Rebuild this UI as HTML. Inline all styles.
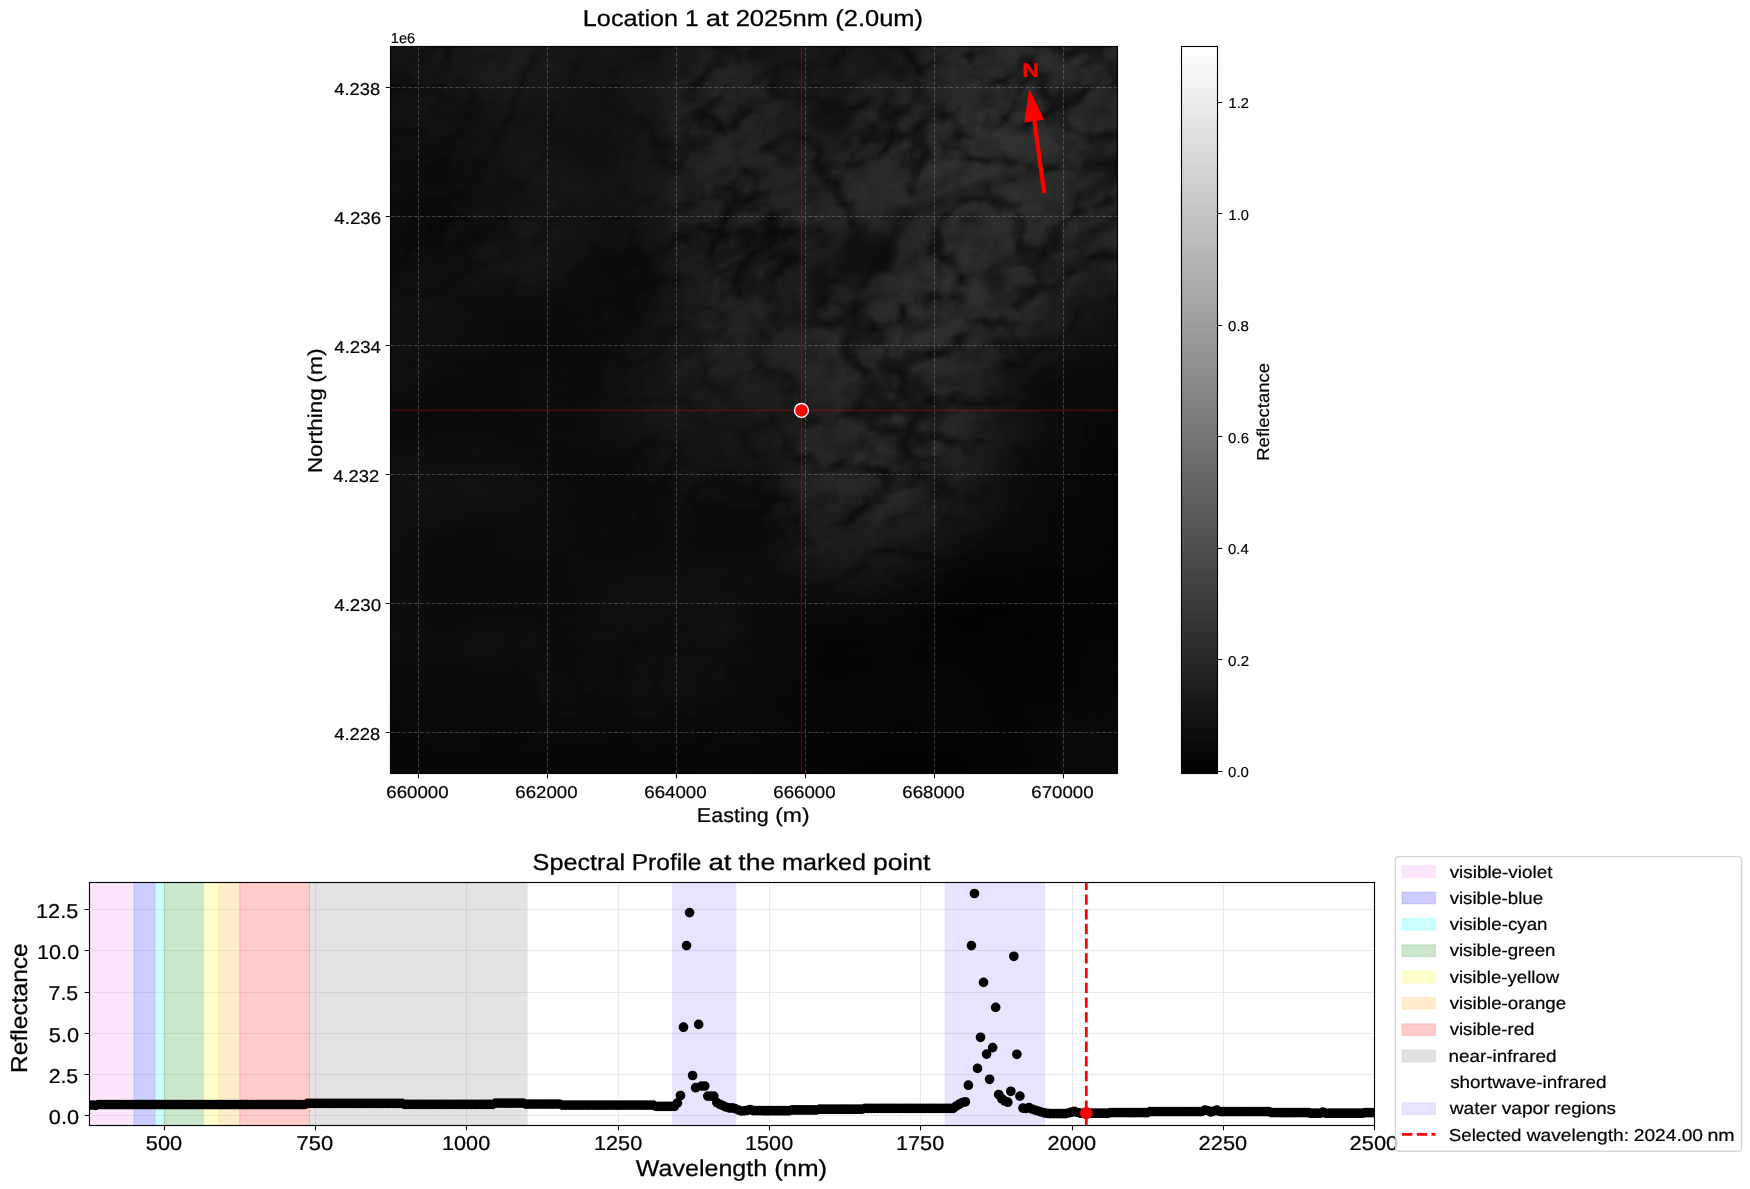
<!DOCTYPE html>
<html lang="en"><head><meta charset="utf-8"><title>Location 1 at 2025nm</title>
<style>html,body{margin:0;padding:0;background:#fff;}body{width:1750px;height:1189px;overflow:hidden;font-family:"Liberation Sans",sans-serif;}svg{display:block;will-change:transform;}</style></head>
<body>
<svg width="1750" height="1189" viewBox="0 0 1750 1189" font-family="'Liberation Sans', sans-serif" text-rendering="geometricPrecision">
<defs>
<linearGradient id="cbg" x1="0" y1="1" x2="0" y2="0"><stop offset="0" stop-color="#000"/><stop offset="1" stop-color="#fff"/></linearGradient>
<clipPath id="imclip"><rect x="390.5" y="46.5" width="727.0" height="727.0"/></clipPath>
<clipPath id="lclip"><rect x="89.5" y="882.5" width="1285.0" height="243.0"/></clipPath>
<filter id="tgb" x="-15%" y="-15%" width="130%" height="130%" color-interpolation-filters="sRGB"><feGaussianBlur stdDeviation="20"/></filter>
<filter id="tf0" x="0" y="0" width="100%" height="100%" color-interpolation-filters="sRGB">
<feTurbulence type="fractalNoise" baseFrequency="0.006 0.009" numOctaves="3" seed="4" result="t0"/>
<feColorMatrix in="t0" type="matrix" values="0.7 0 0 0 0.15  0.7 0 0 0 0.15  0.7 0 0 0 0.15  0 0 0 0 1" result="g0"/>
<feComposite in="SourceGraphic" in2="g0" operator="arithmetic" k1="2" k2="0" k3="0" k4="0"/></filter>
<filter id="tf1" x="0" y="0" width="100%" height="100%" color-interpolation-filters="sRGB">
<feTurbulence type="turbulence" baseFrequency="0.015 0.02" numOctaves="4" seed="3" result="tA"/>
<feTurbulence type="turbulence" baseFrequency="0.022 0.03" numOctaves="3" seed="7" result="tB"/>
<feTurbulence type="fractalNoise" baseFrequency="0.04 0.06" numOctaves="4" seed="5" result="tC"/>
<feColorMatrix in="tA" type="matrix" values="3.0 0 0 0 0.0  3.0 0 0 0 0.0  3.0 0 0 0 0.0  0 0 0 0 1" result="gA"/>
<feColorMatrix in="tB" type="matrix" values="1000 0 0 0 1  1000 0 0 0 1  1000 0 0 0 1  0 0 0 0 1" result="gB"/>
<feColorMatrix in="tC" type="matrix" values="1.0 0 0 0 0.4  1.0 0 0 0 0.4  1.0 0 0 0 0.4  0 0 0 0 1" result="gC"/>
<feComposite in="gA" in2="gB" operator="arithmetic" k1="1" k2="0" k3="0" k4="0" result="gAB"/>
<feComposite in="gAB" in2="gC" operator="arithmetic" k1="1" k2="0" k3="0" k4="0" result="ng0"/>
<feGaussianBlur in="ng0" stdDeviation="1.2" result="ng"/>
<feComposite in="SourceGraphic" in2="ng" operator="arithmetic" k1="1.45" k2="0" k3="0" k4="0"/></filter>
<filter id="vb" x="-20%" y="-20%" width="140%" height="140%" color-interpolation-filters="sRGB"><feGaussianBlur stdDeviation="5"/></filter>
</defs>
<rect width="1750" height="1189" fill="#fff"/>
<g clip-path="url(#imclip)" style="isolation:isolate">
<rect x="390.5" y="46.5" width="727.0" height="727.0" fill="#000"/>
<g filter="url(#tf0)"><rect x="300.5" y="-43.5" width="907.0" height="907.0" fill="#060606"/><g filter="url(#tgb)"><rect x="310.5" y="-33.5" width="126.0" height="126.0" fill="#0c0c0c"/><rect x="435.9" y="-33.5" width="46.0" height="126.0" fill="#0c0c0c"/><rect x="481.4" y="-33.5" width="46.0" height="126.0" fill="#0c0c0c"/><rect x="526.8" y="-33.5" width="46.0" height="126.0" fill="#0c0c0c"/><rect x="572.2" y="-33.5" width="46.0" height="126.0" fill="#0c0c0c"/><rect x="617.7" y="-33.5" width="46.0" height="126.0" fill="#0c0c0c"/><rect x="663.1" y="-33.5" width="46.0" height="126.0" fill="#0c0c0c"/><rect x="708.6" y="-33.5" width="46.0" height="126.0" fill="#0c0c0c"/><rect x="754.0" y="-33.5" width="46.0" height="126.0" fill="#0c0c0c"/><rect x="799.4" y="-33.5" width="46.0" height="126.0" fill="#0c0c0c"/><rect x="844.9" y="-33.5" width="46.0" height="126.0" fill="#0c0c0c"/><rect x="890.3" y="-33.5" width="46.0" height="126.0" fill="#0c0c0c"/><rect x="935.8" y="-33.5" width="46.0" height="126.0" fill="#0c0c0c"/><rect x="981.2" y="-33.5" width="46.0" height="126.0" fill="#0c0c0c"/><rect x="1026.6" y="-33.5" width="46.0" height="126.0" fill="#0c0c0c"/><rect x="1072.1" y="-33.5" width="126.0" height="126.0" fill="#0c0c0c"/><rect x="310.5" y="91.9" width="126.0" height="46.0" fill="#0c0c0c"/><rect x="435.9" y="91.9" width="46.0" height="46.0" fill="#0c0c0c"/><rect x="481.4" y="91.9" width="46.0" height="46.0" fill="#0c0c0c"/><rect x="526.8" y="91.9" width="46.0" height="46.0" fill="#0c0c0c"/><rect x="572.2" y="91.9" width="46.0" height="46.0" fill="#0c0c0c"/><rect x="617.7" y="91.9" width="46.0" height="46.0" fill="#0c0c0c"/><rect x="663.1" y="91.9" width="46.0" height="46.0" fill="#0c0c0c"/><rect x="708.6" y="91.9" width="46.0" height="46.0" fill="#0c0c0c"/><rect x="754.0" y="91.9" width="46.0" height="46.0" fill="#0c0c0c"/><rect x="799.4" y="91.9" width="46.0" height="46.0" fill="#0c0c0c"/><rect x="844.9" y="91.9" width="46.0" height="46.0" fill="#0c0c0c"/><rect x="890.3" y="91.9" width="46.0" height="46.0" fill="#0c0c0c"/><rect x="935.8" y="91.9" width="46.0" height="46.0" fill="#0c0c0c"/><rect x="981.2" y="91.9" width="46.0" height="46.0" fill="#0c0c0c"/><rect x="1026.6" y="91.9" width="46.0" height="46.0" fill="#0c0c0c"/><rect x="1072.1" y="91.9" width="126.0" height="46.0" fill="#0c0c0c"/><rect x="310.5" y="137.4" width="126.0" height="46.0" fill="#0c0c0c"/><rect x="435.9" y="137.4" width="46.0" height="46.0" fill="#0c0c0c"/><rect x="481.4" y="137.4" width="46.0" height="46.0" fill="#0c0c0c"/><rect x="526.8" y="137.4" width="46.0" height="46.0" fill="#0c0c0c"/><rect x="572.2" y="137.4" width="46.0" height="46.0" fill="#0c0c0c"/><rect x="617.7" y="137.4" width="46.0" height="46.0" fill="#0c0c0c"/><rect x="663.1" y="137.4" width="46.0" height="46.0" fill="#0c0c0c"/><rect x="708.6" y="137.4" width="46.0" height="46.0" fill="#0c0c0c"/><rect x="754.0" y="137.4" width="46.0" height="46.0" fill="#0c0c0c"/><rect x="799.4" y="137.4" width="46.0" height="46.0" fill="#0c0c0c"/><rect x="844.9" y="137.4" width="46.0" height="46.0" fill="#0c0c0c"/><rect x="890.3" y="137.4" width="46.0" height="46.0" fill="#0c0c0c"/><rect x="935.8" y="137.4" width="46.0" height="46.0" fill="#0c0c0c"/><rect x="981.2" y="137.4" width="46.0" height="46.0" fill="#0c0c0c"/><rect x="1026.6" y="137.4" width="46.0" height="46.0" fill="#0c0c0c"/><rect x="1072.1" y="137.4" width="126.0" height="46.0" fill="#0c0c0c"/><rect x="310.5" y="182.8" width="126.0" height="46.0" fill="#0c0c0c"/><rect x="435.9" y="182.8" width="46.0" height="46.0" fill="#0c0c0c"/><rect x="481.4" y="182.8" width="46.0" height="46.0" fill="#0c0c0c"/><rect x="526.8" y="182.8" width="46.0" height="46.0" fill="#0c0c0c"/><rect x="572.2" y="182.8" width="46.0" height="46.0" fill="#0c0c0c"/><rect x="617.7" y="182.8" width="46.0" height="46.0" fill="#0c0c0c"/><rect x="663.1" y="182.8" width="46.0" height="46.0" fill="#0c0c0c"/><rect x="708.6" y="182.8" width="46.0" height="46.0" fill="#0c0c0c"/><rect x="754.0" y="182.8" width="46.0" height="46.0" fill="#0c0c0c"/><rect x="799.4" y="182.8" width="46.0" height="46.0" fill="#0c0c0c"/><rect x="844.9" y="182.8" width="46.0" height="46.0" fill="#0c0c0c"/><rect x="890.3" y="182.8" width="46.0" height="46.0" fill="#0c0c0c"/><rect x="935.8" y="182.8" width="46.0" height="46.0" fill="#0c0c0c"/><rect x="981.2" y="182.8" width="46.0" height="46.0" fill="#0c0c0c"/><rect x="1026.6" y="182.8" width="46.0" height="46.0" fill="#0c0c0c"/><rect x="1072.1" y="182.8" width="126.0" height="46.0" fill="#0c0c0c"/><rect x="310.5" y="228.2" width="126.0" height="46.0" fill="#0c0c0c"/><rect x="435.9" y="228.2" width="46.0" height="46.0" fill="#0c0c0c"/><rect x="481.4" y="228.2" width="46.0" height="46.0" fill="#0c0c0c"/><rect x="526.8" y="228.2" width="46.0" height="46.0" fill="#0c0c0c"/><rect x="572.2" y="228.2" width="46.0" height="46.0" fill="#0c0c0c"/><rect x="617.7" y="228.2" width="46.0" height="46.0" fill="#0c0c0c"/><rect x="663.1" y="228.2" width="46.0" height="46.0" fill="#0c0c0c"/><rect x="708.6" y="228.2" width="46.0" height="46.0" fill="#0c0c0c"/><rect x="754.0" y="228.2" width="46.0" height="46.0" fill="#0c0c0c"/><rect x="799.4" y="228.2" width="46.0" height="46.0" fill="#0c0c0c"/><rect x="844.9" y="228.2" width="46.0" height="46.0" fill="#0c0c0c"/><rect x="890.3" y="228.2" width="46.0" height="46.0" fill="#0c0c0c"/><rect x="935.8" y="228.2" width="46.0" height="46.0" fill="#0c0c0c"/><rect x="981.2" y="228.2" width="46.0" height="46.0" fill="#0c0c0c"/><rect x="1026.6" y="228.2" width="46.0" height="46.0" fill="#0c0c0c"/><rect x="1072.1" y="228.2" width="126.0" height="46.0" fill="#0c0c0c"/><rect x="310.5" y="273.7" width="126.0" height="46.0" fill="#0c0c0c"/><rect x="435.9" y="273.7" width="46.0" height="46.0" fill="#0c0c0c"/><rect x="481.4" y="273.7" width="46.0" height="46.0" fill="#0c0c0c"/><rect x="526.8" y="273.7" width="46.0" height="46.0" fill="#0c0c0c"/><rect x="572.2" y="273.7" width="46.0" height="46.0" fill="#0c0c0c"/><rect x="617.7" y="273.7" width="46.0" height="46.0" fill="#0c0c0c"/><rect x="663.1" y="273.7" width="46.0" height="46.0" fill="#0c0c0c"/><rect x="708.6" y="273.7" width="46.0" height="46.0" fill="#0c0c0c"/><rect x="754.0" y="273.7" width="46.0" height="46.0" fill="#0c0c0c"/><rect x="799.4" y="273.7" width="46.0" height="46.0" fill="#0c0c0c"/><rect x="844.9" y="273.7" width="46.0" height="46.0" fill="#0c0c0c"/><rect x="890.3" y="273.7" width="46.0" height="46.0" fill="#0c0c0c"/><rect x="935.8" y="273.7" width="46.0" height="46.0" fill="#0c0c0c"/><rect x="981.2" y="273.7" width="46.0" height="46.0" fill="#0c0c0c"/><rect x="1026.6" y="273.7" width="46.0" height="46.0" fill="#0c0c0c"/><rect x="1072.1" y="273.7" width="126.0" height="46.0" fill="#0c0c0c"/><rect x="310.5" y="319.1" width="126.0" height="46.0" fill="#0c0c0c"/><rect x="435.9" y="319.1" width="46.0" height="46.0" fill="#0c0c0c"/><rect x="481.4" y="319.1" width="46.0" height="46.0" fill="#0c0c0c"/><rect x="526.8" y="319.1" width="46.0" height="46.0" fill="#0c0c0c"/><rect x="572.2" y="319.1" width="46.0" height="46.0" fill="#0c0c0c"/><rect x="617.7" y="319.1" width="46.0" height="46.0" fill="#0c0c0c"/><rect x="663.1" y="319.1" width="46.0" height="46.0" fill="#0c0c0c"/><rect x="708.6" y="319.1" width="46.0" height="46.0" fill="#0c0c0c"/><rect x="754.0" y="319.1" width="46.0" height="46.0" fill="#0c0c0c"/><rect x="799.4" y="319.1" width="46.0" height="46.0" fill="#0c0c0c"/><rect x="844.9" y="319.1" width="46.0" height="46.0" fill="#0c0c0c"/><rect x="890.3" y="319.1" width="46.0" height="46.0" fill="#0c0c0c"/><rect x="935.8" y="319.1" width="46.0" height="46.0" fill="#0c0c0c"/><rect x="981.2" y="319.1" width="46.0" height="46.0" fill="#0c0c0c"/><rect x="1026.6" y="319.1" width="46.0" height="46.0" fill="#0c0c0c"/><rect x="1072.1" y="319.1" width="126.0" height="46.0" fill="#0c0c0c"/><rect x="310.5" y="364.6" width="126.0" height="46.0" fill="#0c0c0c"/><rect x="435.9" y="364.6" width="46.0" height="46.0" fill="#0c0c0c"/><rect x="481.4" y="364.6" width="46.0" height="46.0" fill="#0c0c0c"/><rect x="526.8" y="364.6" width="46.0" height="46.0" fill="#0c0c0c"/><rect x="572.2" y="364.6" width="46.0" height="46.0" fill="#0c0c0c"/><rect x="617.7" y="364.6" width="46.0" height="46.0" fill="#0c0c0c"/><rect x="663.1" y="364.6" width="46.0" height="46.0" fill="#0c0c0c"/><rect x="708.6" y="364.6" width="46.0" height="46.0" fill="#0c0c0c"/><rect x="754.0" y="364.6" width="46.0" height="46.0" fill="#0c0c0c"/><rect x="799.4" y="364.6" width="46.0" height="46.0" fill="#0c0c0c"/><rect x="844.9" y="364.6" width="46.0" height="46.0" fill="#0c0c0c"/><rect x="890.3" y="364.6" width="46.0" height="46.0" fill="#0c0c0c"/><rect x="935.8" y="364.6" width="46.0" height="46.0" fill="#0c0c0c"/><rect x="981.2" y="364.6" width="46.0" height="46.0" fill="#0c0c0c"/><rect x="1026.6" y="364.6" width="46.0" height="46.0" fill="#0c0c0c"/><rect x="1072.1" y="364.6" width="126.0" height="46.0" fill="#080808"/><rect x="310.5" y="410.0" width="126.0" height="46.0" fill="#0c0c0c"/><rect x="435.9" y="410.0" width="46.0" height="46.0" fill="#0c0c0c"/><rect x="481.4" y="410.0" width="46.0" height="46.0" fill="#0c0c0c"/><rect x="526.8" y="410.0" width="46.0" height="46.0" fill="#0c0c0c"/><rect x="572.2" y="410.0" width="46.0" height="46.0" fill="#0c0c0c"/><rect x="617.7" y="410.0" width="46.0" height="46.0" fill="#0c0c0c"/><rect x="663.1" y="410.0" width="46.0" height="46.0" fill="#0c0c0c"/><rect x="708.6" y="410.0" width="46.0" height="46.0" fill="#0c0c0c"/><rect x="754.0" y="410.0" width="46.0" height="46.0" fill="#0c0c0c"/><rect x="799.4" y="410.0" width="46.0" height="46.0" fill="#0c0c0c"/><rect x="844.9" y="410.0" width="46.0" height="46.0" fill="#0c0c0c"/><rect x="890.3" y="410.0" width="46.0" height="46.0" fill="#0c0c0c"/><rect x="935.8" y="410.0" width="46.0" height="46.0" fill="#0c0c0c"/><rect x="981.2" y="410.0" width="46.0" height="46.0" fill="#0c0c0c"/><rect x="1026.6" y="410.0" width="46.0" height="46.0" fill="#0c0c0c"/><rect x="1072.1" y="410.0" width="126.0" height="46.0" fill="#060606"/><rect x="310.5" y="455.4" width="126.0" height="46.0" fill="#0c0c0c"/><rect x="435.9" y="455.4" width="46.0" height="46.0" fill="#0c0c0c"/><rect x="481.4" y="455.4" width="46.0" height="46.0" fill="#0c0c0c"/><rect x="526.8" y="455.4" width="46.0" height="46.0" fill="#0c0c0c"/><rect x="572.2" y="455.4" width="46.0" height="46.0" fill="#0c0c0c"/><rect x="617.7" y="455.4" width="46.0" height="46.0" fill="#0c0c0c"/><rect x="663.1" y="455.4" width="46.0" height="46.0" fill="#0c0c0c"/><rect x="708.6" y="455.4" width="46.0" height="46.0" fill="#0c0c0c"/><rect x="754.0" y="455.4" width="46.0" height="46.0" fill="#0c0c0c"/><rect x="799.4" y="455.4" width="46.0" height="46.0" fill="#0c0c0c"/><rect x="844.9" y="455.4" width="46.0" height="46.0" fill="#0c0c0c"/><rect x="890.3" y="455.4" width="46.0" height="46.0" fill="#0c0c0c"/><rect x="935.8" y="455.4" width="46.0" height="46.0" fill="#0c0c0c"/><rect x="981.2" y="455.4" width="46.0" height="46.0" fill="#0c0c0c"/><rect x="1026.6" y="455.4" width="46.0" height="46.0" fill="#070707"/><rect x="1072.1" y="455.4" width="126.0" height="46.0" fill="#050505"/><rect x="310.5" y="500.9" width="126.0" height="46.0" fill="#0c0c0c"/><rect x="435.9" y="500.9" width="46.0" height="46.0" fill="#0c0c0c"/><rect x="481.4" y="500.9" width="46.0" height="46.0" fill="#0c0c0c"/><rect x="526.8" y="500.9" width="46.0" height="46.0" fill="#0c0c0c"/><rect x="572.2" y="500.9" width="46.0" height="46.0" fill="#0c0c0c"/><rect x="617.7" y="500.9" width="46.0" height="46.0" fill="#0c0c0c"/><rect x="663.1" y="500.9" width="46.0" height="46.0" fill="#0c0c0c"/><rect x="708.6" y="500.9" width="46.0" height="46.0" fill="#0c0c0c"/><rect x="754.0" y="500.9" width="46.0" height="46.0" fill="#0c0c0c"/><rect x="799.4" y="500.9" width="46.0" height="46.0" fill="#0c0c0c"/><rect x="844.9" y="500.9" width="46.0" height="46.0" fill="#0c0c0c"/><rect x="890.3" y="500.9" width="46.0" height="46.0" fill="#0c0c0c"/><rect x="935.8" y="500.9" width="46.0" height="46.0" fill="#0c0c0c"/><rect x="981.2" y="500.9" width="46.0" height="46.0" fill="#090909"/><rect x="1026.6" y="500.9" width="46.0" height="46.0" fill="#050505"/><rect x="1072.1" y="500.9" width="126.0" height="46.0" fill="#050505"/><rect x="310.5" y="546.3" width="126.0" height="46.0" fill="#0c0c0c"/><rect x="435.9" y="546.3" width="46.0" height="46.0" fill="#0c0c0c"/><rect x="481.4" y="546.3" width="46.0" height="46.0" fill="#0c0c0c"/><rect x="526.8" y="546.3" width="46.0" height="46.0" fill="#0c0c0c"/><rect x="572.2" y="546.3" width="46.0" height="46.0" fill="#0c0c0c"/><rect x="617.7" y="546.3" width="46.0" height="46.0" fill="#0c0c0c"/><rect x="663.1" y="546.3" width="46.0" height="46.0" fill="#0c0c0c"/><rect x="708.6" y="546.3" width="46.0" height="46.0" fill="#0c0c0c"/><rect x="754.0" y="546.3" width="46.0" height="46.0" fill="#0c0c0c"/><rect x="799.4" y="546.3" width="46.0" height="46.0" fill="#0c0c0c"/><rect x="844.9" y="546.3" width="46.0" height="46.0" fill="#0c0c0c"/><rect x="890.3" y="546.3" width="46.0" height="46.0" fill="#0c0c0c"/><rect x="935.8" y="546.3" width="46.0" height="46.0" fill="#090909"/><rect x="981.2" y="546.3" width="46.0" height="46.0" fill="#060606"/><rect x="1026.6" y="546.3" width="46.0" height="46.0" fill="#050505"/><rect x="1072.1" y="546.3" width="126.0" height="46.0" fill="#050505"/><rect x="310.5" y="591.8" width="126.0" height="46.0" fill="#0c0c0c"/><rect x="435.9" y="591.8" width="46.0" height="46.0" fill="#0c0c0c"/><rect x="481.4" y="591.8" width="46.0" height="46.0" fill="#0c0c0c"/><rect x="526.8" y="591.8" width="46.0" height="46.0" fill="#0c0c0c"/><rect x="572.2" y="591.8" width="46.0" height="46.0" fill="#0c0c0c"/><rect x="617.7" y="591.8" width="46.0" height="46.0" fill="#0c0c0c"/><rect x="663.1" y="591.8" width="46.0" height="46.0" fill="#0c0c0c"/><rect x="708.6" y="591.8" width="46.0" height="46.0" fill="#0c0c0c"/><rect x="754.0" y="591.8" width="46.0" height="46.0" fill="#090909"/><rect x="799.4" y="591.8" width="46.0" height="46.0" fill="#080808"/><rect x="844.9" y="591.8" width="46.0" height="46.0" fill="#080808"/><rect x="890.3" y="591.8" width="46.0" height="46.0" fill="#070707"/><rect x="935.8" y="591.8" width="46.0" height="46.0" fill="#050505"/><rect x="981.2" y="591.8" width="46.0" height="46.0" fill="#050505"/><rect x="1026.6" y="591.8" width="46.0" height="46.0" fill="#050505"/><rect x="1072.1" y="591.8" width="126.0" height="46.0" fill="#050505"/><rect x="310.5" y="637.2" width="126.0" height="46.0" fill="#0c0c0c"/><rect x="435.9" y="637.2" width="46.0" height="46.0" fill="#0c0c0c"/><rect x="481.4" y="637.2" width="46.0" height="46.0" fill="#0c0c0c"/><rect x="526.8" y="637.2" width="46.0" height="46.0" fill="#0c0c0c"/><rect x="572.2" y="637.2" width="46.0" height="46.0" fill="#0c0c0c"/><rect x="617.7" y="637.2" width="46.0" height="46.0" fill="#0c0c0c"/><rect x="663.1" y="637.2" width="46.0" height="46.0" fill="#0c0c0c"/><rect x="708.6" y="637.2" width="46.0" height="46.0" fill="#0c0c0c"/><rect x="754.0" y="637.2" width="46.0" height="46.0" fill="#080808"/><rect x="799.4" y="637.2" width="46.0" height="46.0" fill="#050505"/><rect x="844.9" y="637.2" width="46.0" height="46.0" fill="#050505"/><rect x="890.3" y="637.2" width="46.0" height="46.0" fill="#050505"/><rect x="935.8" y="637.2" width="46.0" height="46.0" fill="#050505"/><rect x="981.2" y="637.2" width="46.0" height="46.0" fill="#050505"/><rect x="1026.6" y="637.2" width="46.0" height="46.0" fill="#060606"/><rect x="1072.1" y="637.2" width="126.0" height="46.0" fill="#080808"/><rect x="310.5" y="682.6" width="126.0" height="46.0" fill="#0c0c0c"/><rect x="435.9" y="682.6" width="46.0" height="46.0" fill="#0c0c0c"/><rect x="481.4" y="682.6" width="46.0" height="46.0" fill="#0c0c0c"/><rect x="526.8" y="682.6" width="46.0" height="46.0" fill="#0c0c0c"/><rect x="572.2" y="682.6" width="46.0" height="46.0" fill="#0c0c0c"/><rect x="617.7" y="682.6" width="46.0" height="46.0" fill="#0c0c0c"/><rect x="663.1" y="682.6" width="46.0" height="46.0" fill="#0c0c0c"/><rect x="708.6" y="682.6" width="46.0" height="46.0" fill="#0a0a0a"/><rect x="754.0" y="682.6" width="46.0" height="46.0" fill="#060606"/><rect x="799.4" y="682.6" width="46.0" height="46.0" fill="#050505"/><rect x="844.9" y="682.6" width="46.0" height="46.0" fill="#050505"/><rect x="890.3" y="682.6" width="46.0" height="46.0" fill="#050505"/><rect x="935.8" y="682.6" width="46.0" height="46.0" fill="#050505"/><rect x="981.2" y="682.6" width="46.0" height="46.0" fill="#050505"/><rect x="1026.6" y="682.6" width="46.0" height="46.0" fill="#060606"/><rect x="1072.1" y="682.6" width="126.0" height="46.0" fill="#080808"/><rect x="310.5" y="728.1" width="126.0" height="126.0" fill="#070707"/><rect x="435.9" y="728.1" width="46.0" height="126.0" fill="#070707"/><rect x="481.4" y="728.1" width="46.0" height="126.0" fill="#070707"/><rect x="526.8" y="728.1" width="46.0" height="126.0" fill="#070707"/><rect x="572.2" y="728.1" width="46.0" height="126.0" fill="#070707"/><rect x="617.7" y="728.1" width="46.0" height="126.0" fill="#070707"/><rect x="663.1" y="728.1" width="46.0" height="126.0" fill="#060606"/><rect x="708.6" y="728.1" width="46.0" height="126.0" fill="#060606"/><rect x="754.0" y="728.1" width="46.0" height="126.0" fill="#050505"/><rect x="799.4" y="728.1" width="46.0" height="126.0" fill="#040404"/><rect x="844.9" y="728.1" width="46.0" height="126.0" fill="#040404"/><rect x="890.3" y="728.1" width="46.0" height="126.0" fill="#040404"/><rect x="935.8" y="728.1" width="46.0" height="126.0" fill="#040404"/><rect x="981.2" y="728.1" width="46.0" height="126.0" fill="#040404"/><rect x="1026.6" y="728.1" width="46.0" height="126.0" fill="#060606"/><rect x="1072.1" y="728.1" width="126.0" height="126.0" fill="#080808"/></g></g>
<g style="mix-blend-mode:screen"><g transform="rotate(-30 754.0 410.0)" filter="url(#tf1)"><g transform="rotate(30 754.0 410.0)"><rect x="300.5" y="-43.5" width="907.0" height="907.0" fill="#000"/><g filter="url(#tgb)"><rect x="310.5" y="-33.5" width="126.0" height="126.0" fill="#080808"/><rect x="435.9" y="-33.5" width="46.0" height="126.0" fill="#0a0a0a"/><rect x="481.4" y="-33.5" width="46.0" height="126.0" fill="#0c0c0c"/><rect x="526.8" y="-33.5" width="46.0" height="126.0" fill="#080808"/><rect x="572.2" y="-33.5" width="46.0" height="126.0" fill="#020202"/><rect x="617.7" y="-33.5" width="46.0" height="126.0" fill="#040404"/><rect x="663.1" y="-33.5" width="46.0" height="126.0" fill="#0c0c0c"/><rect x="708.6" y="-33.5" width="46.0" height="126.0" fill="#121212"/><rect x="754.0" y="-33.5" width="46.0" height="126.0" fill="#0c0c0c"/><rect x="799.4" y="-33.5" width="46.0" height="126.0" fill="#080808"/><rect x="844.9" y="-33.5" width="46.0" height="126.0" fill="#0c0c0c"/><rect x="890.3" y="-33.5" width="46.0" height="126.0" fill="#0e0e0e"/><rect x="935.8" y="-33.5" width="46.0" height="126.0" fill="#161616"/><rect x="981.2" y="-33.5" width="46.0" height="126.0" fill="#181818"/><rect x="1026.6" y="-33.5" width="46.0" height="126.0" fill="#181818"/><rect x="1072.1" y="-33.5" width="126.0" height="126.0" fill="#161616"/><rect x="310.5" y="91.9" width="126.0" height="46.0" fill="#060606"/><rect x="435.9" y="91.9" width="46.0" height="46.0" fill="#060606"/><rect x="481.4" y="91.9" width="46.0" height="46.0" fill="#060606"/><rect x="526.8" y="91.9" width="46.0" height="46.0" fill="#040404"/><rect x="617.7" y="91.9" width="46.0" height="46.0" fill="#080808"/><rect x="663.1" y="91.9" width="46.0" height="46.0" fill="#121212"/><rect x="708.6" y="91.9" width="46.0" height="46.0" fill="#161616"/><rect x="754.0" y="91.9" width="46.0" height="46.0" fill="#101010"/><rect x="799.4" y="91.9" width="46.0" height="46.0" fill="#060606"/><rect x="844.9" y="91.9" width="46.0" height="46.0" fill="#141414"/><rect x="890.3" y="91.9" width="46.0" height="46.0" fill="#161616"/><rect x="935.8" y="91.9" width="46.0" height="46.0" fill="#181818"/><rect x="981.2" y="91.9" width="46.0" height="46.0" fill="#1a1a1a"/><rect x="1026.6" y="91.9" width="46.0" height="46.0" fill="#1a1a1a"/><rect x="1072.1" y="91.9" width="126.0" height="46.0" fill="#161616"/><rect x="310.5" y="137.4" width="126.0" height="46.0" fill="#020202"/><rect x="435.9" y="137.4" width="46.0" height="46.0" fill="#030303"/><rect x="481.4" y="137.4" width="46.0" height="46.0" fill="#040404"/><rect x="526.8" y="137.4" width="46.0" height="46.0" fill="#040404"/><rect x="617.7" y="137.4" width="46.0" height="46.0" fill="#060606"/><rect x="663.1" y="137.4" width="46.0" height="46.0" fill="#121212"/><rect x="708.6" y="137.4" width="46.0" height="46.0" fill="#161616"/><rect x="754.0" y="137.4" width="46.0" height="46.0" fill="#121212"/><rect x="799.4" y="137.4" width="46.0" height="46.0" fill="#141414"/><rect x="844.9" y="137.4" width="46.0" height="46.0" fill="#181818"/><rect x="890.3" y="137.4" width="46.0" height="46.0" fill="#181818"/><rect x="935.8" y="137.4" width="46.0" height="46.0" fill="#1a1a1a"/><rect x="981.2" y="137.4" width="46.0" height="46.0" fill="#1a1a1a"/><rect x="1026.6" y="137.4" width="46.0" height="46.0" fill="#181818"/><rect x="1072.1" y="137.4" width="126.0" height="46.0" fill="#101010"/><rect x="310.5" y="182.8" width="126.0" height="46.0" fill="#020202"/><rect x="435.9" y="182.8" width="46.0" height="46.0" fill="#040404"/><rect x="481.4" y="182.8" width="46.0" height="46.0" fill="#040404"/><rect x="526.8" y="182.8" width="46.0" height="46.0" fill="#040404"/><rect x="572.2" y="182.8" width="46.0" height="46.0" fill="#020202"/><rect x="617.7" y="182.8" width="46.0" height="46.0" fill="#040404"/><rect x="663.1" y="182.8" width="46.0" height="46.0" fill="#101010"/><rect x="708.6" y="182.8" width="46.0" height="46.0" fill="#141414"/><rect x="754.0" y="182.8" width="46.0" height="46.0" fill="#121212"/><rect x="799.4" y="182.8" width="46.0" height="46.0" fill="#161616"/><rect x="844.9" y="182.8" width="46.0" height="46.0" fill="#161616"/><rect x="890.3" y="182.8" width="46.0" height="46.0" fill="#121212"/><rect x="935.8" y="182.8" width="46.0" height="46.0" fill="#181818"/><rect x="981.2" y="182.8" width="46.0" height="46.0" fill="#181818"/><rect x="1026.6" y="182.8" width="46.0" height="46.0" fill="#181818"/><rect x="1072.1" y="182.8" width="126.0" height="46.0" fill="#141414"/><rect x="310.5" y="228.2" width="126.0" height="46.0" fill="#040404"/><rect x="435.9" y="228.2" width="46.0" height="46.0" fill="#060606"/><rect x="481.4" y="228.2" width="46.0" height="46.0" fill="#080808"/><rect x="526.8" y="228.2" width="46.0" height="46.0" fill="#060606"/><rect x="572.2" y="228.2" width="46.0" height="46.0" fill="#020202"/><rect x="617.7" y="228.2" width="46.0" height="46.0" fill="#040404"/><rect x="663.1" y="228.2" width="46.0" height="46.0" fill="#0e0e0e"/><rect x="708.6" y="228.2" width="46.0" height="46.0" fill="#121212"/><rect x="754.0" y="228.2" width="46.0" height="46.0" fill="#101010"/><rect x="799.4" y="228.2" width="46.0" height="46.0" fill="#101010"/><rect x="844.9" y="228.2" width="46.0" height="46.0" fill="#080808"/><rect x="890.3" y="228.2" width="46.0" height="46.0" fill="#161616"/><rect x="935.8" y="228.2" width="46.0" height="46.0" fill="#1a1a1a"/><rect x="981.2" y="228.2" width="46.0" height="46.0" fill="#181818"/><rect x="1026.6" y="228.2" width="46.0" height="46.0" fill="#181818"/><rect x="1072.1" y="228.2" width="126.0" height="46.0" fill="#141414"/><rect x="310.5" y="273.7" width="126.0" height="46.0" fill="#020202"/><rect x="435.9" y="273.7" width="46.0" height="46.0" fill="#020202"/><rect x="481.4" y="273.7" width="46.0" height="46.0" fill="#020202"/><rect x="526.8" y="273.7" width="46.0" height="46.0" fill="#020202"/><rect x="572.2" y="273.7" width="46.0" height="46.0" fill="#020202"/><rect x="617.7" y="273.7" width="46.0" height="46.0" fill="#040404"/><rect x="663.1" y="273.7" width="46.0" height="46.0" fill="#0c0c0c"/><rect x="708.6" y="273.7" width="46.0" height="46.0" fill="#121212"/><rect x="754.0" y="273.7" width="46.0" height="46.0" fill="#101010"/><rect x="799.4" y="273.7" width="46.0" height="46.0" fill="#0c0c0c"/><rect x="844.9" y="273.7" width="46.0" height="46.0" fill="#161616"/><rect x="890.3" y="273.7" width="46.0" height="46.0" fill="#1c1c1c"/><rect x="935.8" y="273.7" width="46.0" height="46.0" fill="#1c1c1c"/><rect x="981.2" y="273.7" width="46.0" height="46.0" fill="#161616"/><rect x="1026.6" y="273.7" width="46.0" height="46.0" fill="#121212"/><rect x="1072.1" y="273.7" width="126.0" height="46.0" fill="#080808"/><rect x="310.5" y="319.1" width="126.0" height="46.0" fill="#010101"/><rect x="435.9" y="319.1" width="46.0" height="46.0" fill="#010101"/><rect x="481.4" y="319.1" width="46.0" height="46.0" fill="#010101"/><rect x="526.8" y="319.1" width="46.0" height="46.0" fill="#010101"/><rect x="572.2" y="319.1" width="46.0" height="46.0" fill="#020202"/><rect x="617.7" y="319.1" width="46.0" height="46.0" fill="#040404"/><rect x="663.1" y="319.1" width="46.0" height="46.0" fill="#0a0a0a"/><rect x="708.6" y="319.1" width="46.0" height="46.0" fill="#0e0e0e"/><rect x="754.0" y="319.1" width="46.0" height="46.0" fill="#0e0e0e"/><rect x="799.4" y="319.1" width="46.0" height="46.0" fill="#141414"/><rect x="844.9" y="319.1" width="46.0" height="46.0" fill="#1a1a1a"/><rect x="890.3" y="319.1" width="46.0" height="46.0" fill="#1a1a1a"/><rect x="935.8" y="319.1" width="46.0" height="46.0" fill="#181818"/><rect x="981.2" y="319.1" width="46.0" height="46.0" fill="#121212"/><rect x="1026.6" y="319.1" width="46.0" height="46.0" fill="#080808"/><rect x="310.5" y="364.6" width="126.0" height="46.0" fill="#020202"/><rect x="435.9" y="364.6" width="46.0" height="46.0" fill="#020202"/><rect x="481.4" y="364.6" width="46.0" height="46.0" fill="#020202"/><rect x="526.8" y="364.6" width="46.0" height="46.0" fill="#020202"/><rect x="572.2" y="364.6" width="46.0" height="46.0" fill="#020202"/><rect x="617.7" y="364.6" width="46.0" height="46.0" fill="#040404"/><rect x="663.1" y="364.6" width="46.0" height="46.0" fill="#080808"/><rect x="708.6" y="364.6" width="46.0" height="46.0" fill="#0a0a0a"/><rect x="754.0" y="364.6" width="46.0" height="46.0" fill="#0a0a0a"/><rect x="799.4" y="364.6" width="46.0" height="46.0" fill="#101010"/><rect x="844.9" y="364.6" width="46.0" height="46.0" fill="#181818"/><rect x="890.3" y="364.6" width="46.0" height="46.0" fill="#161616"/><rect x="935.8" y="364.6" width="46.0" height="46.0" fill="#161616"/><rect x="981.2" y="364.6" width="46.0" height="46.0" fill="#0a0a0a"/><rect x="310.5" y="410.0" width="126.0" height="46.0" fill="#010101"/><rect x="435.9" y="410.0" width="46.0" height="46.0" fill="#010101"/><rect x="481.4" y="410.0" width="46.0" height="46.0" fill="#010101"/><rect x="526.8" y="410.0" width="46.0" height="46.0" fill="#010101"/><rect x="572.2" y="410.0" width="46.0" height="46.0" fill="#010101"/><rect x="617.7" y="410.0" width="46.0" height="46.0" fill="#040404"/><rect x="663.1" y="410.0" width="46.0" height="46.0" fill="#080808"/><rect x="708.6" y="410.0" width="46.0" height="46.0" fill="#060606"/><rect x="754.0" y="410.0" width="46.0" height="46.0" fill="#0a0a0a"/><rect x="799.4" y="410.0" width="46.0" height="46.0" fill="#101010"/><rect x="844.9" y="410.0" width="46.0" height="46.0" fill="#181818"/><rect x="890.3" y="410.0" width="46.0" height="46.0" fill="#181818"/><rect x="935.8" y="410.0" width="46.0" height="46.0" fill="#141414"/><rect x="981.2" y="410.0" width="46.0" height="46.0" fill="#0a0a0a"/><rect x="617.7" y="455.4" width="46.0" height="46.0" fill="#040404"/><rect x="663.1" y="455.4" width="46.0" height="46.0" fill="#080808"/><rect x="708.6" y="455.4" width="46.0" height="46.0" fill="#020202"/><rect x="754.0" y="455.4" width="46.0" height="46.0" fill="#0c0c0c"/><rect x="799.4" y="455.4" width="46.0" height="46.0" fill="#161616"/><rect x="844.9" y="455.4" width="46.0" height="46.0" fill="#181818"/><rect x="890.3" y="455.4" width="46.0" height="46.0" fill="#161616"/><rect x="935.8" y="455.4" width="46.0" height="46.0" fill="#0e0e0e"/><rect x="981.2" y="455.4" width="46.0" height="46.0" fill="#020202"/><rect x="617.7" y="500.9" width="46.0" height="46.0" fill="#020202"/><rect x="663.1" y="500.9" width="46.0" height="46.0" fill="#020202"/><rect x="754.0" y="500.9" width="46.0" height="46.0" fill="#060606"/><rect x="799.4" y="500.9" width="46.0" height="46.0" fill="#121212"/><rect x="844.9" y="500.9" width="46.0" height="46.0" fill="#141414"/><rect x="890.3" y="500.9" width="46.0" height="46.0" fill="#101010"/><rect x="935.8" y="500.9" width="46.0" height="46.0" fill="#040404"/><rect x="799.4" y="546.3" width="46.0" height="46.0" fill="#080808"/><rect x="844.9" y="546.3" width="46.0" height="46.0" fill="#0a0a0a"/><rect x="890.3" y="546.3" width="46.0" height="46.0" fill="#040404"/><rect x="481.4" y="637.2" width="46.0" height="46.0" fill="#010101"/><rect x="526.8" y="637.2" width="46.0" height="46.0" fill="#020202"/><rect x="572.2" y="637.2" width="46.0" height="46.0" fill="#040404"/><rect x="617.7" y="637.2" width="46.0" height="46.0" fill="#040404"/><rect x="663.1" y="637.2" width="46.0" height="46.0" fill="#040404"/><rect x="708.6" y="637.2" width="46.0" height="46.0" fill="#020202"/><rect x="526.8" y="682.6" width="46.0" height="46.0" fill="#020202"/><rect x="572.2" y="682.6" width="46.0" height="46.0" fill="#020202"/><rect x="617.7" y="682.6" width="46.0" height="46.0" fill="#020202"/><rect x="663.1" y="682.6" width="46.0" height="46.0" fill="#020202"/></g><g filter="url(#vb)"><ellipse cx="832" cy="116" rx="22" ry="18" fill="#000" fill-opacity="0.65" transform="rotate(0 832 116)"/><ellipse cx="868" cy="253" rx="28" ry="20" fill="#000" fill-opacity="0.8" transform="rotate(-20 868 253)"/><ellipse cx="820" cy="286" rx="12" ry="22" fill="#000" fill-opacity="0.6" transform="rotate(0 820 286)"/><ellipse cx="996" cy="283" rx="12" ry="14" fill="#000" fill-opacity="0.6" transform="rotate(0 996 283)"/><path d="M1014 177L893 218" stroke="#000" stroke-opacity="0.65" stroke-width="9" stroke-linecap="round" fill="none"/><path d="M893 359L934 400" stroke="#000" stroke-opacity="0.65" stroke-width="7" stroke-linecap="round" fill="none"/><path d="M1118 170L1070 205" stroke="#000" stroke-opacity="0.6" stroke-width="7" stroke-linecap="round" fill="none"/><path d="M1118 215L1075 248" stroke="#000" stroke-opacity="0.55" stroke-width="7" stroke-linecap="round" fill="none"/><path d="M939 490L974 497" stroke="#000" stroke-opacity="0.6" stroke-width="8" stroke-linecap="round" fill="none"/><path d="M1090 330L1020 392" stroke="#000" stroke-opacity="0.5" stroke-width="7" stroke-linecap="round" fill="none"/><path d="M960 300L905 335" stroke="#000" stroke-opacity="0.5" stroke-width="7" stroke-linecap="round" fill="none"/><path d="M870 46L900 75" stroke="#000" stroke-opacity="0.45" stroke-width="14" stroke-linecap="round" fill="none"/><path d="M800 180L840 150" stroke="#000" stroke-opacity="0.45" stroke-width="8" stroke-linecap="round" fill="none"/><path d="M860 420L900 445" stroke="#000" stroke-opacity="0.5" stroke-width="7" stroke-linecap="round" fill="none"/><path d="M840 520L880 500" stroke="#000" stroke-opacity="0.45" stroke-width="7" stroke-linecap="round" fill="none"/><path d="M1040 250L1000 262" stroke="#000" stroke-opacity="0.5" stroke-width="7" stroke-linecap="round" fill="none"/></g></g></g></g>
</g>
<path d="M418.50 773.5V46.5M547.50 773.5V46.5M676.50 773.5V46.5M805.50 773.5V46.5M934.50 773.5V46.5M1063.50 773.5V46.5M390.5 87.50H1117.5M390.5 216.50H1117.5M390.5 345.50H1117.5M390.5 474.50H1117.5M390.5 603.50H1117.5M390.5 732.50H1117.5" stroke="#fff" stroke-opacity="0.2" stroke-width="1.11" stroke-dasharray="4.1 1.78" fill="none"/>
<path d="M801.5 46.5V773.5M390.5 410.4H1117.5" stroke="#f00" stroke-opacity="0.32" stroke-width="1.39" fill="none"/>
<circle cx="801.5" cy="410.4" r="6.94" fill="#f00" stroke="#fff" stroke-width="1.39"/>
<path d="M1044.2 193 L1034.4 121" stroke="#f00" stroke-width="4.2" fill="none"/>
<path d="M1029.3 88.8 L1024.3 122.4 L1044.1 119.7 Z" fill="#f00"/>
<text transform="translate(1029.30 77.00)" y="0" font-size="20.12" fill="#f00" stroke="#f00" stroke-width="0.23" font-weight="700"><tspan x="-7.15" textLength="16.70" lengthAdjust="spacingAndGlyphs">N</tspan></text>
<rect x="390.5" y="46.5" width="727.0" height="727.0" fill="none" stroke="#000" stroke-width="1.11"/>
<text transform="translate(418.50 797.50)" y="0" font-size="17.25" fill="#000" stroke="#000" stroke-width="0.20"><tspan x="-32.25" textLength="62.28" lengthAdjust="spacingAndGlyphs">660000</tspan></text>
<text transform="translate(547.50 797.50)" y="0" font-size="17.25" fill="#000" stroke="#000" stroke-width="0.20"><tspan x="-32.25" textLength="62.28" lengthAdjust="spacingAndGlyphs">662000</tspan></text>
<text transform="translate(676.50 797.50)" y="0" font-size="17.25" fill="#000" stroke="#000" stroke-width="0.20"><tspan x="-32.25" textLength="62.28" lengthAdjust="spacingAndGlyphs">664000</tspan></text>
<text transform="translate(805.50 797.50)" y="0" font-size="17.25" fill="#000" stroke="#000" stroke-width="0.20"><tspan x="-32.25" textLength="62.28" lengthAdjust="spacingAndGlyphs">666000</tspan></text>
<text transform="translate(934.50 797.50)" y="0" font-size="17.25" fill="#000" stroke="#000" stroke-width="0.20"><tspan x="-32.25" textLength="62.28" lengthAdjust="spacingAndGlyphs">668000</tspan></text>
<text transform="translate(1063.50 797.50)" y="0" font-size="17.25" fill="#000" stroke="#000" stroke-width="0.20"><tspan x="-32.25" textLength="62.28" lengthAdjust="spacingAndGlyphs">670000</tspan></text>
<text transform="translate(380.30 94.70)" y="0" font-size="17.25" fill="#000" stroke="#000" stroke-width="0.20"><tspan x="-46.02" textLength="45.82" lengthAdjust="spacingAndGlyphs">4.238</tspan></text>
<text transform="translate(380.30 223.70)" y="0" font-size="17.25" fill="#000" stroke="#000" stroke-width="0.20"><tspan x="-46.03" textLength="46.86" lengthAdjust="spacingAndGlyphs">4.236</tspan></text>
<text transform="translate(380.30 352.70)" y="0" font-size="17.25" fill="#000" stroke="#000" stroke-width="0.20"><tspan x="-46.03" textLength="46.58" lengthAdjust="spacingAndGlyphs">4.234</tspan></text>
<text transform="translate(380.30 481.70)" y="0" font-size="17.25" fill="#000" stroke="#000" stroke-width="0.20"><tspan x="-47.02" textLength="45.95" lengthAdjust="spacingAndGlyphs">4.232</tspan></text>
<text transform="translate(380.30 610.70)" y="0" font-size="17.25" fill="#000" stroke="#000" stroke-width="0.20"><tspan x="-46.03" textLength="46.77" lengthAdjust="spacingAndGlyphs">4.230</tspan></text>
<text transform="translate(380.30 739.70)" y="0" font-size="17.25" fill="#000" stroke="#000" stroke-width="0.20"><tspan x="-46.02" textLength="45.82" lengthAdjust="spacingAndGlyphs">4.228</tspan></text>
<path d="M418.50 773.5v4.86M547.50 773.5v4.86M676.50 773.5v4.86M805.50 773.5v4.86M934.50 773.5v4.86M1063.50 773.5v4.86M390.5 87.50h-4.86M390.5 216.50h-4.86M390.5 345.50h-4.86M390.5 474.50h-4.86M390.5 603.50h-4.86M390.5 732.50h-4.86" stroke="#000" stroke-width="1.11" fill="none"/>
<text transform="translate(390.50 43.00)" y="0" font-size="14.38" fill="#000" stroke="#000" stroke-width="0.17"><tspan x="0.29" textLength="24.36" lengthAdjust="spacingAndGlyphs">1e6</tspan></text>
<text transform="translate(754.00 26.00)" y="0" font-size="23.00" fill="#000" stroke="#000" stroke-width="0.27"><tspan x="-171.17" textLength="95.30" lengthAdjust="spacingAndGlyphs">Location</tspan> <tspan x="-68.97" textLength="13.68" lengthAdjust="spacingAndGlyphs">1</tspan> <tspan x="-48.26" textLength="22.95" lengthAdjust="spacingAndGlyphs">at</tspan> <tspan x="-18.38" textLength="92.57" lengthAdjust="spacingAndGlyphs">2025nm</tspan> <tspan x="81.32" textLength="87.77" lengthAdjust="spacingAndGlyphs">(2.0um)</tspan></text>
<text transform="translate(754.00 821.90)" y="0" font-size="20.12" fill="#000" stroke="#000" stroke-width="0.23"><tspan x="-57.16" textLength="71.75" lengthAdjust="spacingAndGlyphs">Easting</tspan> <tspan x="21.18" textLength="34.45" lengthAdjust="spacingAndGlyphs">(m)</tspan></text>
<text transform="translate(322.30 410.50) rotate(-90)" y="0" font-size="20.12" fill="#000" stroke="#000" stroke-width="0.23"><tspan x="-62.64" textLength="84.87" lengthAdjust="spacingAndGlyphs">Northing</tspan> <tspan x="27.78" textLength="34.45" lengthAdjust="spacingAndGlyphs">(m)</tspan></text>
<rect x="1181.5" y="46.5" width="36.0" height="727.0" fill="url(#cbg)" stroke="#000" stroke-width="1.11"/>
<text transform="translate(1227.40 777.00)" y="0" font-size="14.38" fill="#000" stroke="#000" stroke-width="0.17"><tspan x="0.72" textLength="20.77" lengthAdjust="spacingAndGlyphs">0.0</tspan></text>
<text transform="translate(1227.40 666.00)" y="0" font-size="14.38" fill="#000" stroke="#000" stroke-width="0.17"><tspan x="0.71" textLength="20.94" lengthAdjust="spacingAndGlyphs">0.2</tspan></text>
<text transform="translate(1227.40 554.00)" y="0" font-size="14.38" fill="#000" stroke="#000" stroke-width="0.17"><tspan x="0.72" textLength="20.61" lengthAdjust="spacingAndGlyphs">0.4</tspan></text>
<text transform="translate(1227.40 443.00)" y="0" font-size="14.38" fill="#000" stroke="#000" stroke-width="0.17"><tspan x="0.72" textLength="20.85" lengthAdjust="spacingAndGlyphs">0.6</tspan></text>
<text transform="translate(1227.40 331.00)" y="0" font-size="14.38" fill="#000" stroke="#000" stroke-width="0.17"><tspan x="0.72" textLength="20.83" lengthAdjust="spacingAndGlyphs">0.8</tspan></text>
<text transform="translate(1227.40 220.00)" y="0" font-size="14.38" fill="#000" stroke="#000" stroke-width="0.17"><tspan x="1.19" textLength="20.28" lengthAdjust="spacingAndGlyphs">1.0</tspan></text>
<text transform="translate(1227.40 108.00)" y="0" font-size="14.38" fill="#000" stroke="#000" stroke-width="0.17"><tspan x="1.18" textLength="20.46" lengthAdjust="spacingAndGlyphs">1.2</tspan></text>
<path d="M1217.5 771.50h4.86M1217.5 659.50h4.86M1217.5 548.50h4.86M1217.5 436.50h4.86M1217.5 325.50h4.86M1217.5 213.50h4.86M1217.5 102.50h4.86" stroke="#000" stroke-width="1.11" fill="none"/>
<text transform="translate(1268.90 412.00) rotate(-90)" y="0" font-size="17.25" fill="#000" stroke="#000" stroke-width="0.20"><tspan x="-48.82" textLength="97.93" lengthAdjust="spacingAndGlyphs">Reflectance</tspan></text>
<path d="M164.50 882.5V1125.5M315.50 882.5V1125.5M466.50 882.5V1125.5M618.50 882.5V1125.5M769.50 882.5V1125.5M920.50 882.5V1125.5M1072.50 882.5V1125.5M1223.50 882.5V1125.5M1374.50 882.5V1125.5M89.5 1115.50H1374.5M89.5 1074.50H1374.5M89.5 1033.50H1374.5M89.5 992.50H1374.5M89.5 950.50H1374.5M89.5 909.50H1374.5" stroke="#b0b0b0" stroke-opacity="0.27" stroke-width="1.11" fill="none"/>
<g clip-path="url(#lclip)">
<rect x="85.52" y="879.5" width="48.42" height="249.0" fill="#ee82ee" fill-opacity="0.2" stroke="#ee82ee" stroke-opacity="0.090" stroke-width="1.0"/>
<rect x="133.94" y="879.5" width="21.18" height="249.0" fill="#0000ff" fill-opacity="0.2" stroke="#0000ff" stroke-opacity="0.090" stroke-width="1.0"/>
<rect x="155.12" y="879.5" width="9.08" height="249.0" fill="#00ffff" fill-opacity="0.2" stroke="#00ffff" stroke-opacity="0.090" stroke-width="1.0"/>
<rect x="164.20" y="879.5" width="39.34" height="249.0" fill="#008000" fill-opacity="0.2" stroke="#008000" stroke-opacity="0.090" stroke-width="1.0"/>
<rect x="203.54" y="879.5" width="15.13" height="249.0" fill="#ffff00" fill-opacity="0.2" stroke="#ffff00" stroke-opacity="0.090" stroke-width="1.0"/>
<rect x="218.67" y="879.5" width="21.18" height="249.0" fill="#ffa500" fill-opacity="0.2" stroke="#ffa500" stroke-opacity="0.090" stroke-width="1.0"/>
<rect x="239.85" y="879.5" width="69.60" height="249.0" fill="#ff0000" fill-opacity="0.2" stroke="#ff0000" stroke-opacity="0.180" stroke-width="1.0"/>
<rect x="309.45" y="879.5" width="217.87" height="249.0" fill="#808080" fill-opacity="0.22" stroke="#808080" stroke-opacity="0.099" stroke-width="1.0"/>
<rect x="672.57" y="879.5" width="63.55" height="249.0" fill="#0000ff" fill-opacity="0.1" stroke="#0000ff" stroke-opacity="0.045" stroke-width="1.0"/>
<rect x="944.91" y="879.5" width="99.86" height="249.0" fill="#0000ff" fill-opacity="0.1" stroke="#0000ff" stroke-opacity="0.045" stroke-width="1.0"/>
<path d="M89.50 1105.4h0M92.53 1105.0h0M95.56 1105.4h0M98.59 1104.5h0M101.62 1104.5h0M104.65 1104.5h0M107.68 1104.5h0M110.71 1104.5h0M113.75 1104.5h0M116.78 1104.5h0M119.81 1104.5h0M122.84 1104.5h0M125.87 1104.5h0M128.90 1104.5h0M131.93 1104.5h0M134.96 1104.5h0M137.99 1104.5h0M141.02 1104.5h0M144.05 1104.5h0M147.08 1104.5h0M150.11 1104.5h0M153.14 1104.5h0M156.17 1104.5h0M159.21 1104.5h0M162.24 1104.5h0M165.27 1104.5h0M168.30 1104.5h0M171.33 1104.5h0M174.36 1104.5h0M177.39 1104.5h0M180.42 1104.5h0M183.45 1104.5h0M186.48 1104.5h0M189.51 1104.5h0M192.54 1104.5h0M195.57 1104.5h0M198.60 1104.5h0M201.63 1104.5h0M204.67 1104.5h0M207.70 1104.5h0M210.73 1104.5h0M213.76 1104.5h0M216.79 1104.5h0M219.82 1104.5h0M222.85 1104.5h0M225.88 1104.5h0M228.91 1104.5h0M231.94 1104.5h0M234.97 1104.5h0M238.00 1104.5h0M241.03 1104.5h0M244.06 1104.5h0M247.09 1104.5h0M250.12 1104.5h0M253.16 1104.5h0M256.19 1104.5h0M259.22 1104.5h0M262.25 1104.5h0M265.28 1104.5h0M268.31 1104.5h0M271.34 1104.5h0M274.37 1104.5h0M277.40 1104.5h0M280.43 1104.5h0M283.46 1104.5h0M286.49 1104.5h0M289.52 1104.5h0M292.55 1104.5h0M295.58 1104.5h0M298.62 1104.5h0M301.65 1104.5h0M304.68 1104.5h0M307.71 1103.4h0M310.74 1103.4h0M313.77 1103.4h0M316.80 1103.4h0M319.83 1103.4h0M322.86 1103.4h0M325.89 1103.4h0M328.92 1103.4h0M331.95 1103.4h0M334.98 1103.4h0M338.01 1103.4h0M341.04 1103.4h0M344.08 1103.4h0M347.11 1103.4h0M350.14 1103.4h0M353.17 1103.4h0M356.20 1103.4h0M359.23 1103.4h0M362.26 1103.4h0M365.29 1103.4h0M368.32 1103.4h0M371.35 1103.4h0M374.38 1103.4h0M377.41 1103.4h0M380.44 1103.4h0M383.47 1103.4h0M386.50 1103.4h0M389.54 1103.4h0M392.57 1103.4h0M395.60 1103.4h0M398.63 1103.4h0M401.66 1103.4h0M404.69 1104.4h0M407.72 1104.4h0M410.75 1104.4h0M413.78 1104.4h0M416.81 1104.4h0M419.84 1104.4h0M422.87 1104.4h0M425.90 1104.4h0M428.93 1104.4h0M431.96 1104.4h0M435.00 1104.4h0M438.03 1104.4h0M441.06 1104.4h0M444.09 1104.4h0M447.12 1104.4h0M450.15 1104.4h0M453.18 1104.4h0M456.21 1104.4h0M459.24 1104.4h0M462.27 1104.4h0M465.30 1104.4h0M468.33 1104.4h0M471.36 1104.4h0M474.39 1104.4h0M477.42 1104.4h0M480.46 1104.4h0M483.49 1104.4h0M486.52 1104.4h0M489.55 1104.4h0M492.58 1104.4h0M495.61 1103.1h0M498.64 1103.1h0M501.67 1103.1h0M504.70 1103.1h0M507.73 1103.1h0M510.76 1103.1h0M513.79 1103.1h0M516.82 1103.1h0M519.85 1103.1h0M522.88 1103.1h0M525.92 1104.1h0M528.95 1104.1h0M531.98 1104.1h0M535.01 1104.1h0M538.04 1104.1h0M541.07 1104.1h0M544.10 1104.1h0M547.13 1104.1h0M550.16 1104.1h0M553.19 1104.1h0M556.22 1104.1h0M559.25 1104.1h0M562.28 1105.1h0M565.31 1105.1h0M568.34 1105.1h0M571.38 1105.1h0M574.41 1105.1h0M577.44 1105.1h0M580.47 1105.1h0M583.50 1105.1h0M586.53 1105.1h0M589.56 1105.1h0M592.59 1105.1h0M595.62 1105.1h0M598.65 1105.1h0M601.68 1105.1h0M604.71 1105.1h0M607.74 1105.1h0M610.77 1105.1h0M613.80 1105.1h0M616.83 1105.1h0M619.87 1105.1h0M622.90 1105.1h0M625.93 1105.1h0M628.96 1105.1h0M631.99 1105.1h0M635.02 1105.1h0M638.05 1105.1h0M641.08 1105.1h0M644.11 1105.1h0M647.14 1105.1h0M650.17 1105.1h0M653.20 1105.1h0M656.23 1106.4h0M659.26 1106.4h0M662.29 1106.4h0M665.33 1106.4h0M668.36 1106.4h0M671.39 1106.4h0M674.42 1106.4h0M677.45 1103.0h0M680.48 1095.5h0M683.51 1027.2h0M686.54 945.6h0M689.57 912.6h0M692.60 1075.5h0M695.63 1087.7h0M698.66 1024.4h0M701.69 1086.0h0M704.72 1086.0h0M707.75 1096.1h0M710.79 1096.1h0M713.82 1096.1h0M716.85 1102.6h0M719.88 1104.3h0M722.91 1105.6h0M725.94 1107.0h0M728.97 1107.8h0M732.00 1107.8h0M735.03 1108.6h0M738.06 1109.8h0M741.09 1110.9h0M744.12 1110.9h0M747.15 1110.4h0M750.18 1109.6h0M753.21 1110.6h0M756.25 1110.6h0M759.28 1110.6h0M762.31 1110.6h0M765.34 1110.6h0M768.37 1110.6h0M771.40 1110.6h0M774.43 1110.6h0M777.46 1110.6h0M780.49 1110.6h0M783.52 1110.6h0M786.55 1110.6h0M789.58 1110.6h0M792.61 1109.9h0M795.64 1109.9h0M798.67 1109.9h0M801.71 1109.9h0M804.74 1109.9h0M807.77 1109.9h0M810.80 1109.9h0M813.83 1109.9h0M816.86 1109.9h0M819.89 1109.1h0M822.92 1109.1h0M825.95 1109.1h0M828.98 1109.1h0M832.01 1109.1h0M835.04 1109.1h0M838.07 1109.1h0M841.10 1109.1h0M844.13 1109.1h0M847.17 1109.1h0M850.20 1109.1h0M853.23 1109.1h0M856.26 1109.1h0M859.29 1109.1h0M862.32 1109.1h0M865.35 1108.4h0M868.38 1108.4h0M871.41 1108.4h0M874.44 1108.4h0M877.47 1108.4h0M880.50 1108.4h0M883.53 1108.4h0M886.56 1108.4h0M889.59 1108.4h0M892.62 1108.4h0M895.66 1108.4h0M898.69 1108.4h0M901.72 1108.4h0M904.75 1108.4h0M907.78 1108.4h0M910.81 1108.4h0M913.84 1108.4h0M916.87 1108.4h0M919.90 1108.4h0M922.93 1108.4h0M925.96 1108.4h0M928.99 1108.4h0M932.02 1108.4h0M935.05 1108.4h0M938.08 1108.4h0M941.12 1108.4h0M944.15 1108.4h0M947.18 1108.4h0M950.21 1108.4h0M953.24 1108.4h0M956.27 1106.0h0M959.30 1104.2h0M962.33 1102.5h0M965.36 1101.8h0M968.39 1085.2h0M971.42 945.6h0M974.45 893.5h0M977.48 1068.4h0M980.51 1037.3h0M983.54 982.4h0M986.58 1054.1h0M989.61 1079.3h0M992.64 1047.6h0M995.67 1007.4h0M998.70 1094.5h0M1001.73 1098.7h0M1004.76 1101.0h0M1007.79 1102.2h0M1010.82 1091.3h0M1013.85 956.3h0M1016.88 1054.3h0M1019.91 1096.1h0M1022.94 1108.1h0M1025.97 1108.5h0M1029.00 1107.5h0M1032.04 1109.0h0M1035.07 1110.0h0M1038.10 1111.0h0M1041.13 1112.0h0M1044.16 1112.8h0M1047.19 1113.3h0M1050.22 1113.6h0M1053.25 1113.6h0M1056.28 1113.6h0M1059.31 1113.6h0M1062.34 1113.6h0M1065.37 1113.6h0M1068.40 1113.0h0M1071.43 1112.2h0M1074.46 1111.4h0M1077.50 1112.5h0M1080.53 1113.2h0M1083.56 1113.2h0M1086.59 1113.2h0M1089.62 1113.2h0M1092.65 1113.2h0M1095.68 1113.2h0M1098.71 1113.2h0M1101.74 1113.2h0M1104.77 1113.2h0M1107.80 1113.2h0M1110.83 1112.6h0M1113.86 1112.6h0M1116.89 1112.6h0M1119.92 1112.6h0M1122.96 1112.6h0M1125.99 1112.6h0M1129.02 1112.6h0M1132.05 1112.6h0M1135.08 1112.6h0M1138.11 1112.6h0M1141.14 1112.6h0M1144.17 1112.6h0M1147.20 1112.6h0M1150.23 1111.5h0M1153.26 1111.5h0M1156.29 1111.5h0M1159.32 1111.5h0M1162.35 1111.5h0M1165.38 1111.5h0M1168.42 1111.5h0M1171.45 1111.5h0M1174.48 1111.5h0M1177.51 1111.5h0M1180.54 1111.5h0M1183.57 1111.5h0M1186.60 1111.5h0M1189.63 1111.5h0M1192.66 1111.5h0M1195.69 1111.5h0M1198.72 1111.5h0M1201.75 1111.5h0M1204.78 1110.2h0M1207.81 1110.6h0M1210.84 1112.0h0M1213.88 1111.0h0M1216.91 1110.2h0M1219.94 1111.5h0M1222.97 1111.5h0M1226.00 1111.5h0M1229.03 1111.5h0M1232.06 1111.5h0M1235.09 1111.5h0M1238.12 1111.5h0M1241.15 1111.5h0M1244.18 1111.5h0M1247.21 1111.5h0M1250.24 1111.5h0M1253.27 1111.5h0M1256.30 1111.5h0M1259.33 1111.5h0M1262.37 1111.5h0M1265.40 1111.5h0M1268.43 1111.5h0M1271.46 1112.6h0M1274.49 1112.6h0M1277.52 1112.6h0M1280.55 1112.6h0M1283.58 1112.6h0M1286.61 1112.6h0M1289.64 1112.6h0M1292.67 1112.6h0M1295.70 1112.6h0M1298.73 1112.6h0M1301.76 1112.6h0M1304.79 1112.6h0M1307.83 1112.6h0M1310.86 1113.2h0M1313.89 1113.2h0M1316.92 1113.2h0M1319.95 1113.2h0M1322.98 1112.0h0M1326.01 1113.2h0M1329.04 1113.2h0M1332.07 1113.2h0M1335.10 1113.2h0M1338.13 1113.2h0M1341.16 1113.2h0M1344.19 1113.2h0M1347.22 1113.2h0M1350.25 1113.2h0M1353.29 1113.2h0M1356.32 1113.2h0M1359.35 1113.2h0M1362.38 1113.2h0M1365.41 1112.6h0M1368.44 1112.6h0M1371.47 1112.6h0M1374.50 1112.6h0" stroke="#000" stroke-width="9.7" stroke-linecap="round" fill="none"/>
<path d="M1086.3 1125.5V882.5" stroke="#f00" stroke-width="2.78" stroke-dasharray="10.28 4.44" fill="none"/>
<circle cx="1086.3" cy="1113.2" r="6.25" fill="#f00"/>
</g>
<rect x="89.5" y="882.5" width="1285.0" height="243.0" fill="none" stroke="#000" stroke-width="1.11"/>
<text transform="translate(164.40 1149.60)" y="0" font-size="20.12" fill="#000" stroke="#000" stroke-width="0.23"><tspan x="-18.57" textLength="36.33" lengthAdjust="spacingAndGlyphs">500</tspan></text>
<text transform="translate(315.40 1149.60)" y="0" font-size="20.12" fill="#000" stroke="#000" stroke-width="0.23"><tspan x="-18.82" textLength="36.58" lengthAdjust="spacingAndGlyphs">750</tspan></text>
<text transform="translate(466.40 1149.60)" y="0" font-size="20.12" fill="#000" stroke="#000" stroke-width="0.23"><tspan x="-24.34" textLength="48.10" lengthAdjust="spacingAndGlyphs">1000</tspan></text>
<text transform="translate(618.40 1149.60)" y="0" font-size="20.12" fill="#000" stroke="#000" stroke-width="0.23"><tspan x="-24.34" textLength="48.10" lengthAdjust="spacingAndGlyphs">1250</tspan></text>
<text transform="translate(769.40 1149.60)" y="0" font-size="20.12" fill="#000" stroke="#000" stroke-width="0.23"><tspan x="-24.34" textLength="48.10" lengthAdjust="spacingAndGlyphs">1500</tspan></text>
<text transform="translate(920.40 1149.60)" y="0" font-size="20.12" fill="#000" stroke="#000" stroke-width="0.23"><tspan x="-24.34" textLength="48.10" lengthAdjust="spacingAndGlyphs">1750</tspan></text>
<text transform="translate(1072.40 1149.60)" y="0" font-size="20.12" fill="#000" stroke="#000" stroke-width="0.23"><tspan x="-24.79" textLength="48.56" lengthAdjust="spacingAndGlyphs">2000</tspan></text>
<text transform="translate(1223.40 1149.60)" y="0" font-size="20.12" fill="#000" stroke="#000" stroke-width="0.23"><tspan x="-24.79" textLength="48.56" lengthAdjust="spacingAndGlyphs">2250</tspan></text>
<text transform="translate(1374.40 1149.60)" y="0" font-size="20.12" fill="#000" stroke="#000" stroke-width="0.23"><tspan x="-24.79" textLength="48.56" lengthAdjust="spacingAndGlyphs">2500</tspan></text>
<text transform="translate(79.80 1124.00)" y="0" font-size="20.12" fill="#000" stroke="#000" stroke-width="0.23"><tspan x="-30.95" textLength="30.30" lengthAdjust="spacingAndGlyphs">0.0</tspan></text>
<text transform="translate(79.80 1083.00)" y="0" font-size="20.12" fill="#000" stroke="#000" stroke-width="0.23"><tspan x="-31.16" textLength="29.56" lengthAdjust="spacingAndGlyphs">2.5</tspan></text>
<text transform="translate(79.80 1042.00)" y="0" font-size="20.12" fill="#000" stroke="#000" stroke-width="0.23"><tspan x="-30.97" textLength="30.33" lengthAdjust="spacingAndGlyphs">5.0</tspan></text>
<text transform="translate(79.80 1000.00)" y="0" font-size="20.12" fill="#000" stroke="#000" stroke-width="0.23"><tspan x="-31.19" textLength="29.58" lengthAdjust="spacingAndGlyphs">7.5</tspan></text>
<text transform="translate(79.80 959.00)" y="0" font-size="20.12" fill="#000" stroke="#000" stroke-width="0.23"><tspan x="-42.74" textLength="42.09" lengthAdjust="spacingAndGlyphs">10.0</tspan></text>
<text transform="translate(79.80 918.00)" y="0" font-size="20.12" fill="#000" stroke="#000" stroke-width="0.23"><tspan x="-43.75" textLength="42.16" lengthAdjust="spacingAndGlyphs">12.5</tspan></text>
<path d="M164.50 1125.5v4.86M315.50 1125.5v4.86M466.50 1125.5v4.86M618.50 1125.5v4.86M769.50 1125.5v4.86M920.50 1125.5v4.86M1072.50 1125.5v4.86M1223.50 1125.5v4.86M1374.50 1125.5v4.86M89.5 1115.50h-4.86M89.5 1074.50h-4.86M89.5 1033.50h-4.86M89.5 992.50h-4.86M89.5 950.50h-4.86M89.5 909.50h-4.86" stroke="#000" stroke-width="1.11" fill="none"/>
<text transform="translate(732.00 869.60)" y="0" font-size="23.00" fill="#000" stroke="#000" stroke-width="0.27"><tspan x="-199.43" textLength="92.43" lengthAdjust="spacingAndGlyphs">Spectral</tspan> <tspan x="-100.32" textLength="69.71" lengthAdjust="spacingAndGlyphs">Profile</tspan> <tspan x="-23.46" textLength="22.95" lengthAdjust="spacingAndGlyphs">at</tspan> <tspan x="6.30" textLength="37.18" lengthAdjust="spacingAndGlyphs">the</tspan> <tspan x="50.04" textLength="83.88" lengthAdjust="spacingAndGlyphs">marked</tspan> <tspan x="141.00" textLength="57.47" lengthAdjust="spacingAndGlyphs">point</tspan></text>
<text transform="translate(732.00 1175.70)" y="0" font-size="23.00" fill="#000" stroke="#000" stroke-width="0.27"><tspan x="-96.20" textLength="131.32" lengthAdjust="spacingAndGlyphs">Wavelength</tspan> <tspan x="42.31" textLength="52.79" lengthAdjust="spacingAndGlyphs">(nm)</tspan></text>
<text transform="translate(27.30 1007.80) rotate(-90)" y="0" font-size="23.00" fill="#000" stroke="#000" stroke-width="0.27"><tspan x="-65.11" textLength="129.69" lengthAdjust="spacingAndGlyphs">Reflectance</tspan></text>
<rect x="1395.4" y="856.6" width="346.1" height="294.6" rx="3.3" ry="3.3" fill="#fff" fill-opacity="0.8" stroke="#ccc" stroke-opacity="0.8" stroke-width="1.39"/>
<rect x="1402.1" y="865.83" width="33.3" height="11.67" fill="#ee82ee" fill-opacity="0.2" stroke="#ee82ee" stroke-opacity="0.140" stroke-width="1.2"/>
<text transform="translate(1448.80 877.50)" y="0" font-size="17.25" fill="#000" stroke="#000" stroke-width="0.20"><tspan x="0.84" textLength="102.78" lengthAdjust="spacingAndGlyphs">visible-violet</tspan></text>
<rect x="1402.1" y="892.16" width="33.3" height="11.67" fill="#0000ff" fill-opacity="0.2" stroke="#0000ff" stroke-opacity="0.140" stroke-width="1.2"/>
<text transform="translate(1448.80 903.83)" y="0" font-size="17.25" fill="#000" stroke="#000" stroke-width="0.20"><tspan x="0.84" textLength="93.49" lengthAdjust="spacingAndGlyphs">visible-blue</tspan></text>
<rect x="1402.1" y="918.49" width="33.3" height="11.67" fill="#00ffff" fill-opacity="0.2" stroke="#00ffff" stroke-opacity="0.140" stroke-width="1.2"/>
<text transform="translate(1448.80 930.16)" y="0" font-size="17.25" fill="#000" stroke="#000" stroke-width="0.20"><tspan x="0.84" textLength="97.88" lengthAdjust="spacingAndGlyphs">visible-cyan</tspan></text>
<rect x="1402.1" y="944.82" width="33.3" height="11.67" fill="#008000" fill-opacity="0.2" stroke="#008000" stroke-opacity="0.140" stroke-width="1.2"/>
<text transform="translate(1448.80 956.49)" y="0" font-size="17.25" fill="#000" stroke="#000" stroke-width="0.20"><tspan x="0.84" textLength="105.88" lengthAdjust="spacingAndGlyphs">visible-green</tspan></text>
<rect x="1402.1" y="971.15" width="33.3" height="11.67" fill="#ffff00" fill-opacity="0.2" stroke="#ffff00" stroke-opacity="0.140" stroke-width="1.2"/>
<text transform="translate(1448.80 982.82)" y="0" font-size="17.25" fill="#000" stroke="#000" stroke-width="0.20"><tspan x="0.84" textLength="109.59" lengthAdjust="spacingAndGlyphs">visible-yellow</tspan></text>
<rect x="1402.1" y="997.48" width="33.3" height="11.67" fill="#ffa500" fill-opacity="0.2" stroke="#ffa500" stroke-opacity="0.140" stroke-width="1.2"/>
<text transform="translate(1448.80 1009.15)" y="0" font-size="17.25" fill="#000" stroke="#000" stroke-width="0.20"><tspan x="0.84" textLength="116.49" lengthAdjust="spacingAndGlyphs">visible-orange</tspan></text>
<rect x="1402.1" y="1023.81" width="33.3" height="11.67" fill="#ff0000" fill-opacity="0.2" stroke="#ff0000" stroke-opacity="0.140" stroke-width="1.2"/>
<text transform="translate(1448.80 1035.48)" y="0" font-size="17.25" fill="#000" stroke="#000" stroke-width="0.20"><tspan x="0.84" textLength="84.85" lengthAdjust="spacingAndGlyphs">visible-red</tspan></text>
<rect x="1402.1" y="1050.14" width="33.3" height="11.67" fill="#808080" fill-opacity="0.22" stroke="#808080" stroke-opacity="0.154" stroke-width="1.2"/>
<text transform="translate(1448.80 1061.81)" y="0" font-size="17.25" fill="#000" stroke="#000" stroke-width="0.20"><tspan x="-0.35" textLength="108.06" lengthAdjust="spacingAndGlyphs">near-infrared</tspan></text>
<text transform="translate(1448.80 1088.14)" y="0" font-size="17.25" fill="#000" stroke="#000" stroke-width="0.20"><tspan x="1.37" textLength="156.34" lengthAdjust="spacingAndGlyphs">shortwave-infrared</tspan></text>
<rect x="1402.1" y="1102.80" width="33.3" height="11.67" fill="#0000ff" fill-opacity="0.1" stroke="#0000ff" stroke-opacity="0.070" stroke-width="1.2"/>
<text transform="translate(1448.80 1114.47)" y="0" font-size="17.25" fill="#000" stroke="#000" stroke-width="0.20"><tspan x="0.92" textLength="46.89" lengthAdjust="spacingAndGlyphs">water</tspan> <tspan x="52.84" textLength="47.97" lengthAdjust="spacingAndGlyphs">vapor</tspan> <tspan x="105.66" textLength="61.51" lengthAdjust="spacingAndGlyphs">regions</tspan></text>
<path d="M1402.1 1134.37H1435.4" stroke="#f00" stroke-width="2.78" stroke-dasharray="10.28 4.44" fill="none"/>
<text transform="translate(1448.80 1140.80)" y="0" font-size="17.25" fill="#000" stroke="#000" stroke-width="0.20"><tspan x="0.06" textLength="72.65" lengthAdjust="spacingAndGlyphs">Selected</tspan> <tspan x="77.92" textLength="102.32" lengthAdjust="spacingAndGlyphs">wavelength:</tspan> <tspan x="184.94" textLength="69.30" lengthAdjust="spacingAndGlyphs">2024.00</tspan> <tspan x="258.61" textLength="27.19" lengthAdjust="spacingAndGlyphs">nm</tspan></text>
</svg>
</body></html>
